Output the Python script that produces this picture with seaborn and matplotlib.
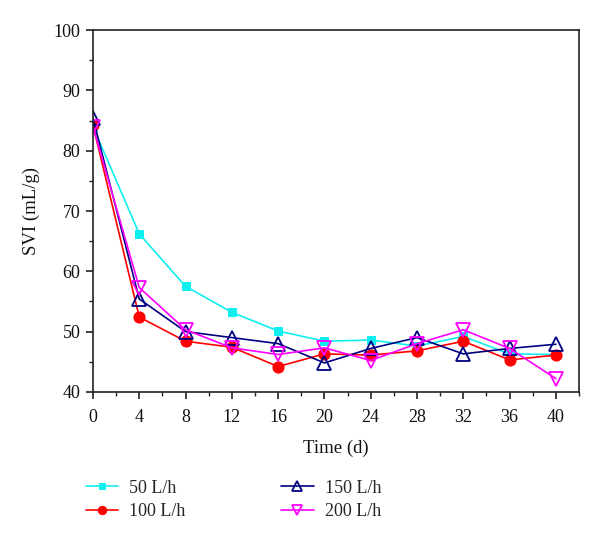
import numpy as np
import pandas as pd
import matplotlib
matplotlib.use("Agg")
import matplotlib.pyplot as plt
import seaborn as sns
from matplotlib.ticker import MultipleLocator

# ---- data ----
days = [0, 4, 8, 12, 16, 20, 24, 28, 32, 36, 40]
svi_50 = [84.0, 66.2, 57.5, 53.2, 50.1, 48.4, 48.6, 47.6, 49.2, 46.3, 46.2]
svi_100 = [84.2, 52.4, 48.4, 47.4, 44.2, 46.3, 46.1, 46.8, 48.4, 45.3, 46.1]
svi_150 = [85.4, 55.4, 50.0, 49.0, 48.0, 44.8, 47.2, 49.0, 46.3, 47.2, 47.9]
svi_200 = [84.0, 57.3, 50.3, 47.3, 46.2, 47.3, 45.2, 48.0, 50.3, 47.2, 42.2]
labels = ["50 L/h", "100 L/h", "150 L/h", "200 L/h"]

sns.set_theme(style="ticks")
plt.rcParams["font.family"] = ["Liberation Serif", "DejaVu Serif"]

fig = plt.figure(figsize=(6.0, 5.39), dpi=100)
ax = fig.add_axes([0.155, 0.273, 0.81, 0.671])

styles = [
    dict(color="#10EEEE", marker="s", markersize=6, markerfacecolor="#10EEEE", markeredgecolor="#10EEEE"),
    dict(color="#FF0000", marker="o", markersize=8, markerfacecolor="#FF0000", markeredgecolor="#FF0000"),
    dict(color="#000080", marker="^", markersize=9.5, markerfacecolor="none", markeredgecolor="#000080", markeredgewidth=1.3),
    dict(color="#FF00FF", marker="v", markersize=9.5, markerfacecolor="none", markeredgecolor="#FF00FF", markeredgewidth=1.3),
]
series = [svi_50, svi_100, svi_150, svi_200]
for vals, lab, st in zip(series, labels, styles):
    df = pd.DataFrame({"Time": days, "SVI": vals})
    sns.lineplot(data=df, x="Time", y="SVI", ax=ax, label=lab, linewidth=1.2, **st)

ax.set_xlim(0, 42)
ax.set_ylim(40, 100)
ax.xaxis.set_major_locator(MultipleLocator(4))
ax.xaxis.set_minor_locator(MultipleLocator(2))
ax.yaxis.set_major_locator(MultipleLocator(10))
ax.yaxis.set_minor_locator(MultipleLocator(5))
ax.tick_params(which="major", direction="out", length=5, width=1.2, labelsize=13, color="#222222", labelcolor="#111111")
ax.tick_params(axis="x", which="major", pad=7)
ax.tick_params(axis="y", which="major", pad=4)
ax.tick_params(which="minor", direction="out", length=3, width=1.0, color="#222222")
ax.tick_params(top=False, right=False, which="both")
for s in ax.spines.values():
    s.set_visible(True)
    s.set_linewidth(1.2)
    s.set_color("#222222")
ax.set_xlabel("Time (d)", fontsize=13.5, color="#111111", labelpad=10)
ax.set_ylabel("SVI (mL/g)", fontsize=13.5, color="#111111", labelpad=10)

handles, labs = ax.get_legend_handles_labels()
ax.legend_.remove()
fig.legend(handles, labs, ncol=2, loc="upper left", bbox_to_anchor=(0.128, 0.127),
           frameon=False, fontsize=13, handlelength=1.8, handletextpad=0.6,
           columnspacing=5.3, labelspacing=0.35, borderpad=0, markerscale=0.75)

fig.savefig("out.png", dpi=100)
